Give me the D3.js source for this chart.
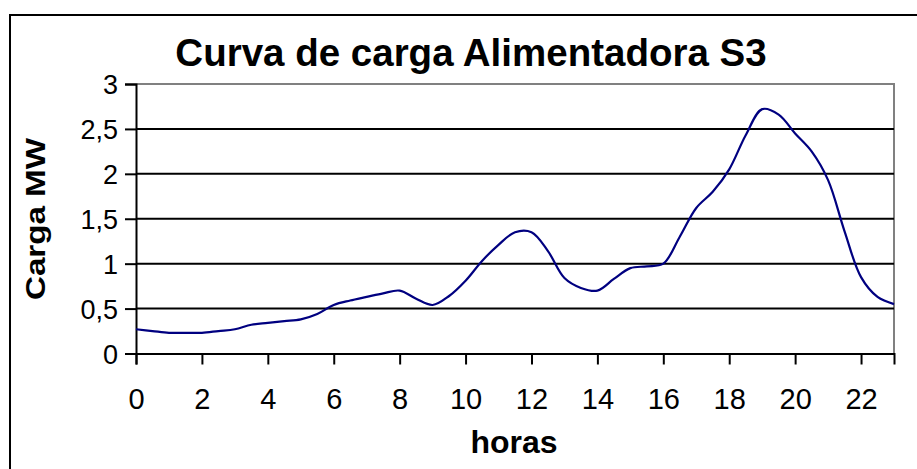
<!DOCTYPE html>
<html><head>
<meta charset="utf-8">
<script src="https://cdn.jsdelivr.net/npm/d3@7"></script>
<title>Curva de carga Alimentadora S3</title>
<style>
  body { margin: 0; background: #fff; }
  svg text { font-family: "Liberation Sans", Arial, sans-serif; fill: #000; }
</style>
</head>
<body>
<script>
// datos (cada media hora)
var horas = [0, 0.5, 1, 1.5, 2, 2.5, 3, 3.5, 4, 4.5, 5, 5.5, 6, 6.5, 7, 7.5, 8, 8.5, 9, 9.5,
             10, 10.5, 11, 11.5, 12, 12.5, 13, 13.5, 14, 14.5, 15, 15.5, 16, 16.5, 17, 17.5,
             18, 18.5, 19, 19.5, 20, 20.5, 21, 21.5, 22, 22.5, 23];
var cargaMW = [0.27, 0.25, 0.23, 0.23, 0.23, 0.25, 0.27, 0.32, 0.34, 0.36, 0.38, 0.44, 0.54, 0.59, 0.63, 0.67, 0.70, 0.61, 0.54, 0.64,
               0.81, 1.03, 1.21, 1.35, 1.35, 1.14, 0.84, 0.73, 0.70, 0.83, 0.95, 0.97, 1.00, 1.30, 1.62, 1.80,
               2.05, 2.43, 2.72, 2.66, 2.45, 2.25, 1.93, 1.36, 0.85, 0.63, 0.55];
var xTicks = [0, 2, 4, 6, 8, 10, 12, 14, 16, 18, 20, 22];
var yTicks = [0, 0.5, 1, 1.5, 2, 2.5, 3];

var W = 917, H = 469;
var pLeft = 136, pRight = 894, pTop = 84, pBottom = 353.5;

var svg = d3.select("body").append("svg")
    .attr("width", W).attr("height", H);

// marco exterior del grafico
svg.append("rect")
    .attr("x", 10).attr("y", 15)
    .attr("width", 940).attr("height", 500)
    .attr("fill", "#fff").attr("stroke", "#000").attr("stroke-width", 2);

var x = d3.scaleLinear().domain([0, 23]).range([pLeft, pRight]);
var y = d3.scaleLinear().domain([0, 3]).range([pBottom, pTop]);

// borde gris del area de trazado
svg.append("path")
    .attr("d", "M" + pLeft + "," + pTop + "H" + pRight + "V" + pBottom)
    .attr("fill", "none").attr("stroke", "#808080").attr("stroke-width", 2);

// lineas de division
svg.append("g").selectAll("line")
    .data(yTicks.filter(function(d) { return d > 0 && d < 3; }))
    .enter().append("line")
    .attr("x1", pLeft).attr("x2", pRight)
    .attr("y1", function(d) { return y(d); })
    .attr("y2", function(d) { return y(d); })
    .attr("stroke", "#000").attr("stroke-width", 2);

var fmt = function(d) { return String(d).replace(".", ","); };

// eje y
var yAxis = svg.append("g")
    .attr("transform", "translate(" + pLeft + ",0)")
    .call(d3.axisLeft(y).tickValues(yTicks).tickFormat(fmt).tickSize(11).tickPadding(7));
yAxis.select(".domain").attr("stroke", "#000").attr("stroke-width", 2);
yAxis.selectAll(".tick line").attr("stroke", "#000").attr("stroke-width", 2);
yAxis.selectAll(".tick text").style("font-size", "27px")
    .style("font-family", "'Liberation Sans', Arial, sans-serif").attr("dy", "0.36em");

// eje x
var xAxis = svg.append("g")
    .attr("transform", "translate(0," + pBottom + ")")
    .call(d3.axisBottom(x).tickValues(xTicks).tickFormat(d3.format("d")).tickSize(11).tickPadding(24));
xAxis.select(".domain").attr("stroke", "#000").attr("stroke-width", 2);
xAxis.selectAll(".tick line").attr("stroke", "#000").attr("stroke-width", 2);
xAxis.selectAll(".tick text").style("font-size", "29px")
    .style("font-family", "'Liberation Sans', Arial, sans-serif");

// curva
var line = d3.line()
    .x(function(d, i) { return x(horas[i]); })
    .y(function(d) { return y(d); })
    .curve(d3.curveCatmullRom.alpha(0.5));

svg.append("path")
    .datum(cargaMW)
    .attr("d", line)
    .attr("fill", "none")
    .attr("stroke", "#000080")
    .attr("stroke-width", 2.2);

// titulos
svg.append("text")
    .attr("x", 471).attr("y", 66)
    .attr("text-anchor", "middle")
    .style("font-size", "38.5px").style("font-weight", "bold")
    .text("Curva de carga Alimentadora S3");

svg.append("text")
    .attr("x", 514).attr("y", 453)
    .attr("text-anchor", "middle")
    .style("font-size", "32px").style("font-weight", "bold")
    .text("horas");

svg.append("text")
    .attr("transform", "translate(45,219) rotate(-90)")
    .attr("text-anchor", "middle")
    .attr("textLength", 162).attr("lengthAdjust", "spacingAndGlyphs")
    .style("font-size", "27px").style("font-weight", "bold")
    .text("Carga MW");
</script>
</body></html>
